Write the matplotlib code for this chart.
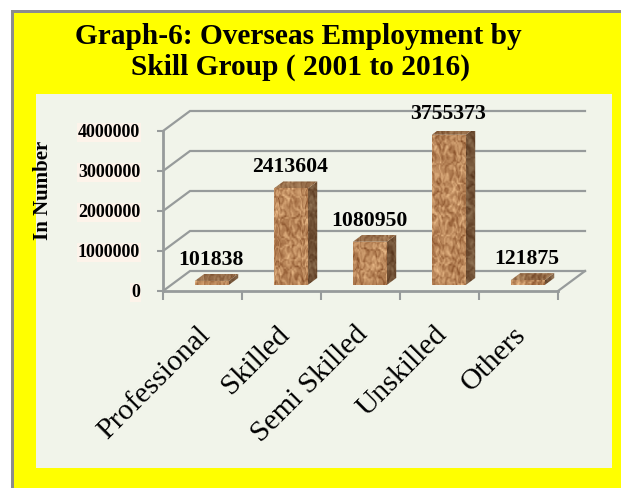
import numpy as np
import matplotlib
matplotlib.use('Agg')
import matplotlib.pyplot as plt
from matplotlib.patches import Polygon, Rectangle

categories = ['Professional', 'Skilled', 'Semi Skilled', 'Unskilled', 'Others']
values = [101838, 2413604, 1080950, 3755373, 121875]
y_ticks = [0, 1000000, 2000000, 3000000, 4000000]

W, H = 621, 488
plt.rcParams['font.family'] = ['Liberation Serif', 'DejaVu Serif']

# 3d look: back wall offset and where the bars stand in the floor
DEPTH_X = 27 / 79
DEPTH_Y = 500000
BAR_D0 = 0.3
BAR_D1 = 0.65
BAR_W = 0.43
GRID = '#979b9b'


def px_rect(x0, y0, x1, y1):
    # pixel box (y from top) to figure fractions
    return [x0 / W, 1 - y1 / H, (x1 - x0) / W, (y1 - y0) / H]


def cork(n=200, m=120):
    # mottled brown texture built from warped sines, no straight stripes
    yy, xx = np.mgrid[0:n, 0:m].astype(float)
    wx = xx + 3.5 * np.sin(yy * 0.29 + 1.1) + 2.5 * np.sin(yy * 0.71)
    wy = yy + 3.5 * np.sin(xx * 0.37 + 0.4) + 2.5 * np.sin(xx * 0.83 + 2)
    t = (np.sin(wx * 0.61) * np.sin(wy * 0.53) + 0.7 * np.sin(wx * 1.13 + 1) * np.sin(wy * 0.97 + 2)
         + 0.4 * np.sin(wx * 0.23) * np.sin(wy * 0.19 + 1))
    t = (t - t.min()) / (t.max() - t.min())
    dark = np.array([0.50, 0.28, 0.13])
    light = np.array([0.96, 0.78, 0.58])
    return dark + (light - dark) * t[..., None]


fig = plt.figure(figsize=(W / 100, H / 100), dpi=100, facecolor='white')

# yellow frame and inner panel
fig.add_artist(Rectangle((11 / W, 0), 1, 1 - 10 / H, transform=fig.transFigure, fc='#8c8c8c', ec='none'))
fig.add_artist(Rectangle((13.5 / W, 0), 1, 1 - 12.5 / H, transform=fig.transFigure, fc='#ffff00', ec='none'))
x0, y0, w0, h0 = px_rect(36, 94, 612, 468)
fig.add_artist(Rectangle((x0, y0), w0, h0, transform=fig.transFigure, fc='#f1f4ea', ec='none'))

fig.text(298.5 / W, 1 - 37 / H, 'Graph-6: Overseas Employment by', ha='center', va='center',
         fontsize=21.2, fontweight='bold')
fig.text(300.5 / W, 1 - 67 / H, 'Skill Group ( 2001 to 2016)', ha='center', va='center',
         fontsize=21.2, fontweight='bold')

# axes = front plane of the 3d box
ax = fig.add_axes(px_rect(163, 131, 558, 291), facecolor='none')
ax.set_zorder(5)
for s in ax.spines.values():
    s.set_visible(False)

# back wall lines and side lines
for t in y_ticks:
    ax.plot([0, DEPTH_X, len(categories) + DEPTH_X], [t, t + DEPTH_Y, t + DEPTH_Y],
            color=GRID, lw=1.6, clip_on=False, zorder=1, solid_joinstyle='miter')
ax.plot([len(categories), len(categories) + DEPTH_X], [0, DEPTH_Y], color=GRID, lw=1.6, clip_on=False, zorder=1)

# front axis lines, with ticks
ax.plot([0, 0], [0, 4000000], color=GRID, lw=2, clip_on=False, zorder=2)
ax.plot([0, len(categories)], [0, 0], color=GRID, lw=2, clip_on=False, zorder=2)

tex = cork()
for i, v in enumerate(values):
    left = i + 0.5 - BAR_W / 2 + 0.015
    right = left + BAR_W
    bx0, by0 = BAR_D0 * DEPTH_X, BAR_D0 * DEPTH_Y
    dx, dy = (BAR_D1 - BAR_D0) * DEPTH_X, (BAR_D1 - BAR_D0) * DEPTH_Y
    xa, xb = left + bx0, right + bx0
    ya, yb = by0, by0 + v
    faces = [
        ([(xa, ya), (xb, ya), (xb, yb), (xa, yb)], 1.0),
        ([(xb, ya), (xb + dx, ya + dy), (xb + dx, yb + dy), (xb, yb)], 0.62),
        ([(xa, yb), (xb, yb), (xb + dx, yb + dy), (xa + dx, yb + dy)], 0.8),
    ]
    for pts, shade in faces:
        poly = Polygon(pts, closed=True, fc='none', ec='none', transform=ax.transData)
        ax.add_patch(poly)
        xs = [p[0] for p in pts]
        ys = [p[1] for p in pts]
        # keep the grain scale the same whatever the bar size
        rows = max(2, int((max(ys) - min(ys)) / 40000))
        cols = max(2, int((max(xs) - min(xs)) * 79))
        patch = np.roll(tex, i * 17, axis=1)[:rows, :cols] * shade
        im = ax.imshow(patch, extent=[min(xs), max(xs), min(ys), max(ys)], aspect='auto',
                       interpolation='bilinear', zorder=3)
        im.set_clip_path(poly)
    # labels sit a fixed distance above the bar top
    ax.annotate(f'{v}', (i + 0.61, v), xytext=(0, 19.5), textcoords='offset points', ha='center', va='center',
                fontsize=15.7, fontweight='bold', zorder=6, annotation_clip=False)

ax.set_xlim(0, len(categories))
ax.set_ylim(0, 4000000)
ax.set_xticks(range(len(categories) + 1))
ax.set_xticklabels([])
ax.set_yticks(y_ticks)
ax.set_yticklabels([])
ax.tick_params(axis='x', length=6.5, width=1.5, color=GRID)
ax.tick_params(axis='y', length=4, width=1.5, color=GRID)

for t in y_ticks:
    ax.annotate(f'{t}', (0, t), xytext=(-16.5, -1.2), textcoords='offset points', ha='right', va='center',
                fontsize=13, fontweight='bold', annotation_clip=False,
                bbox=dict(fc='#fdf3ea', ec='none', pad=0.6))

fig.text(42.5 / W, 1 - 190 / H, 'In Number', rotation=90, ha='center', va='center',
         fontsize=15, fontweight='bold')

for i, c in enumerate(categories):
    ax.annotate(c, (i + 0.5, 0), xytext=(-4, -22), textcoords='offset points', rotation=45,
                rotation_mode='anchor', ha='right', va='top', fontsize=21.3, annotation_clip=False)

fig.savefig('out.png', dpi=100, facecolor='white')
